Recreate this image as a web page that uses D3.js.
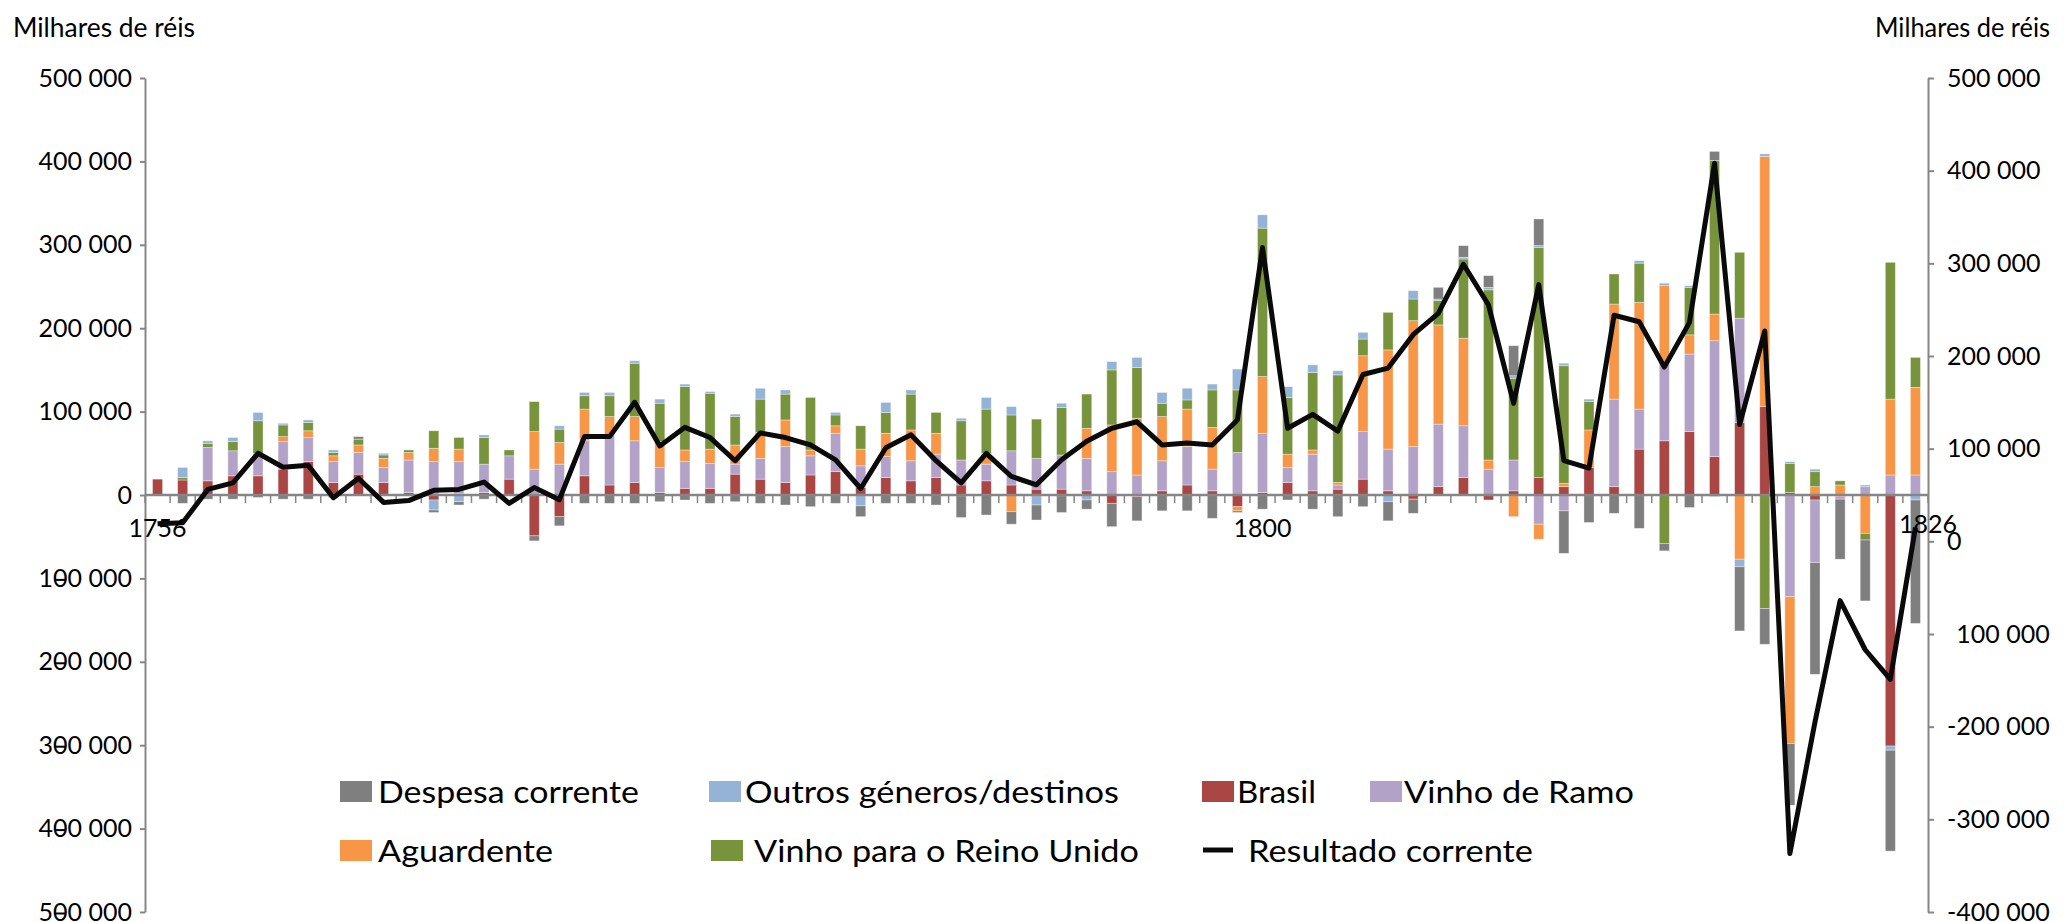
<!DOCTYPE html>
<html><head><meta charset="utf-8">
<script src="https://cdn.jsdelivr.net/npm/d3@7"></script>
<style>
body{margin:0;background:#fff;}
text{font-family:Lato,"Open Sans","Liberation Sans",sans-serif;fill:#000;}
</style>
</head><body>
<svg id="c" width="2064" height="922"></svg>
<script>
// Categories
const years = [1756,1757,1758,1759,1760,1761,1762,1763,1764,1765,
1766,1767,1768,1769,1770,1771,1772,1773,1774,1775,
1776,1777,1778,1779,1780,1781,1782,1783,1784,1785,
1786,1787,1788,1789,1790,1791,1792,1793,1794,1795,
1796,1797,1798,1799,1800,1801,1802,1803,1804,1805,
1806,1807,1808,1809,1810,1811,1812,1813,1814,1815,
1816,1817,1818,1819,1820,1821,1822,1823,1824,1825,1826];
const yearLabels = [1756, 1800, 1826];

// Series values (milhares de réis)
const brasil = [19000,18000,17000,23000,23000,31000,40000,15000,25000,15000,
3000,-6000,2000,3000,19000,-49000,-26000,23000,12000,15000,
3000,8000,8000,25000,19000,15000,24000,28000,9000,21000,
17000,21000,12000,17000,12000,7000,7000,5000,-10000,-2000,
5000,12000,5000,-14000,3000,15000,5000,7000,19000,5000,
-5000,10000,21000,-6000,5000,21000,10000,33000,10000,55000,
65000,76000,46000,87000,106000,3000,-6000,-2000,0,-301000,0];
const vinhoRamo = [0,0,40000,30000,27000,33000,29000,25000,26000,18000,
39000,40000,38000,34000,28000,31000,37000,42000,60000,50000,
30000,32000,30000,12000,25000,43000,23000,46000,26000,25000,
24000,28000,30000,20000,41000,37000,41000,39000,28000,24000,
36000,46000,26000,51000,71000,18000,44000,5000,57000,50000,
58000,75000,62000,31000,37000,-35000,-19000,0,105000,48000,
92000,93000,139000,125000,0,-122000,-75000,-3000,10000,24000,24000];
const aguardente = [0,0,0,0,0,6000,8000,7000,9000,11000,
9000,16000,15000,0,0,45000,26000,38000,22000,29000,
31000,14000,17000,23000,31000,32000,7000,9000,20000,28000,
37000,25000,-1000,13000,-20000,-1000,-1000,36000,56000,68000,
53000,45000,50000,-5000,68000,16000,5000,3000,91000,119000,
151000,119000,105000,11000,-26000,-18000,4000,45000,114000,128000,
94000,23000,32000,-77000,300000,-176000,10000,12000,-46000,91000,105000];
const vinhoReinoUnido = [0,3000,5000,11000,39000,14000,10000,4000,7000,4000,
3000,21000,14000,32000,7000,36000,16000,16000,25000,64000,
46000,76000,67000,34000,40000,31000,63000,13000,28000,25000,
43000,25000,47000,53000,43000,47000,57000,41000,66000,61000,
16000,11000,45000,75000,178000,68000,93000,129000,20000,45000,
26000,29000,95000,204000,98000,276000,141000,34000,36000,47000,
-58000,57000,184000,79000,-136000,35000,18000,5000,-8000,164000,36000];
const outros = [0,12000,3000,5000,10000,2000,3000,3000,0,2000,
0,-12000,-8000,3000,0,0,4000,4000,4000,3000,
5000,3000,2000,3000,13000,5000,0,3000,-13000,12000,
5000,0,3000,14000,10000,-11000,5000,-6000,10000,12000,
13000,14000,7000,25000,16000,13000,9000,5000,8000,-8000,
10000,2000,2000,3000,3000,2000,3000,3000,0,3000,
3000,2000,-2000,-9000,3000,2000,3000,0,2000,-5000,-6000];
const despesa = [0,-10000,-5000,-5000,-3000,-5000,-5000,-3000,3000,0,
0,-3000,-4000,-5000,0,-6000,-11000,-10000,-10000,-10000,
-8000,-6000,-10000,-8000,-10000,-12000,-14000,-10000,-13000,-10000,
-10000,-12000,-26000,-24000,-15000,-18000,-20000,-11000,-28000,-29000,
-19000,-19000,-28000,-2000,-17000,-6000,-17000,-26000,-14000,-23000,
-17000,14000,14000,14000,36000,32000,-51000,-33000,-22000,-40000,
-9000,-15000,11000,-77000,-43000,-74000,-134000,-72000,-73000,-121000,-148000];
const resultado = [19000,20000,56000,63000,95000,80000,82000,47000,68000,42000,
44000,55000,56000,64000,41000,58000,45000,113000,113000,150000,
103000,123000,112000,87000,117000,112000,104000,88000,57000,101000,
115000,87000,63000,95000,70000,61000,88000,108000,122000,129000,
104000,106000,104000,131000,317000,122000,137000,119000,180000,187000,
223000,246000,299000,255000,149000,277000,87000,79000,244000,237000,
188000,236000,408000,126000,227000,-337000,-195000,-64000,-117000,-149000,15000];

const leftTicks = [500000,400000,300000,200000,100000,0,-100000,-200000,-300000,-400000,-500000];
const rightTicks = [500000,400000,300000,200000,100000,0,-100000,-200000,-300000,-400000];

const seriesKeys = ['brasil','vinhoRamo','aguardente','vinhoReinoUnido','outros','despesa'];
const seriesNames = {despesa:'Despesa corrente', outros:'Outros géneros/destinos', brasil:'Brasil',
  vinhoRamo:'Vinho de Ramo', aguardente:'Aguardente', vinhoReinoUnido:'Vinho para o Reino Unido'};
const colors = {despesa:'#7f7f7f', outros:'#95b3d7', brasil:'#aa4643', vinhoRamo:'#b3a2c7',
  aguardente:'#f79646', vinhoReinoUnido:'#77933c'};

const table = years.map((yr,i)=>({year:yr, brasil:brasil[i], vinhoRamo:vinhoRamo[i], aguardente:aguardente[i],
  vinhoReinoUnido:vinhoReinoUnido[i], outros:outros[i], despesa:despesa[i]}));

const svg = d3.select('#c');
const axisColor = '#868686';

const x = d3.scaleBand().domain(years).range([145,1928]).padding(0);
const step = x.step();
const barW = step*0.4;
const yL = d3.scaleLinear().domain([-500000,500000]).range([912,78]);
const yR = d3.scaleLinear().domain([-400000,500000]).range([912,78]);

const loc = d3.formatLocale({decimal:',', thousands:' ', grouping:[3], currency:['',''], minus:'-'});
const fmt = loc.format(',d');

// Bars
const stacked = d3.stack().keys(seriesKeys).offset(d3.stackOffsetDiverging)(table);
svg.append('g').selectAll('g').data(stacked).join('g')
  .attr('fill', d=>colors[d.key])
  .selectAll('rect').data(d=>d.filter(p=>p[1]!==p[0])).join('rect')
  .attr('x', d=>x(d.data.year)+(step-barW)/2)
  .attr('width', barW)
  .attr('y', d=>yL(Math.max(d[0],d[1])))
  .attr('height', d=>Math.abs(yL(d[0])-yL(d[1])))
  .attr('stroke','#ffffff').attr('stroke-opacity',0.45).attr('stroke-width',0.8);

// Left axis
const gL = svg.append('g').attr('transform','translate(145,0)')
  .call(d3.axisLeft(yL).tickValues(leftTicks).tickSize(5).tickSizeOuter(0).tickPadding(8)
    .tickFormat(v=>fmt(Math.abs(v))));
// Right axis
const gR = svg.append('g').attr('transform','translate(1928,0)')
  .call(d3.axisRight(yR).tickValues(rightTicks).tickSize(6).tickSizeOuter(0).tickPadding(13)
    .tickFormat(v=>fmt(v)));
[gL,gR].forEach(g=>{
  g.select('.domain').attr('stroke',axisColor).attr('stroke-width',2);
  g.selectAll('.tick line').attr('stroke',axisColor).attr('stroke-width',2);
  g.selectAll('.tick text').style('font-size','25px').attr('fill','#000');
});
// left negative labels: dash overlapping second digit
gL.selectAll('.tick').filter(d=>d<0).each(function(){
  const t = d3.select(this).select('text').node();
  const r = t.getExtentOfChar(1);
  d3.select(this).append('line').attr('x1',r.x+1.5).attr('x2',r.x+r.width-1.5)
    .attr('y1',1).attr('y2',1).attr('stroke','#000').attr('stroke-width',2);
});
// right -100 000 label: hidden minus sign
gR.selectAll('.tick').filter(d=>d===-100000).select('text').text(null)
  .call(t=>{t.append('tspan').attr('fill','none').text('-'); t.append('tspan').text('100 000');});

// Category axis
const gX = svg.append('g');
gX.append('line').attr('x1',x.range()[0]).attr('x2',x.range()[1])
  .attr('y1',yL(0)).attr('y2',yL(0)).attr('stroke',axisColor).attr('stroke-width',2.5);
gX.selectAll('line.tk').data(years.concat(['end'])).join('line').attr('class','tk')
  .attr('x1',d=>d==='end'?x.range()[1]:x(d)).attr('x2',d=>d==='end'?x.range()[1]:x(d))
  .attr('y1',yL(0)).attr('y2',yL(0)+8).attr('stroke',axisColor).attr('stroke-width',1.5);

// Resultado corrente line (right axis)
const lineData = years.map((yr,i)=>({year:yr, v:resultado[i]}));
svg.append('path').datum(lineData)
  .attr('d', d3.line().x(d=>x(d.year)+step/2).y(d=>yR(d.v)))
  .attr('fill','none').attr('stroke','#0a0a0a').attr('stroke-width',5)
  .attr('stroke-linejoin','round');

// Year labels
svg.append('g').selectAll('text').data(yearLabels).join('text')
  .attr('x', d=> d===1826 ? x.range()[1] : x(d)+step/2)
  .attr('y', d=> d===1826 ? 523 : 527)
  .attr('text-anchor','middle').attr('dominant-baseline','central')
  .style('font-size','25px').text(d=>d);

// Axis titles
svg.append('text').attr('x',13).attr('y',37).style('font-size','26px')
  .attr('textLength',182).attr('lengthAdjust','spacingAndGlyphs').text('Milhares de réis');
svg.append('text').attr('x',1875).attr('y',37).style('font-size','26px')
  .attr('textLength',175).attr('lengthAdjust','spacingAndGlyphs').text('Milhares de réis');

// Legend
const legendItems = [
  {key:'despesa', mx:340, tx:378, tw:261, row:0},
  {key:'outros', mx:709, tx:745, tw:374, row:0},
  {key:'brasil', mx:1202, tx:1237, tw:79, row:0},
  {key:'vinhoRamo', mx:1370, tx:1404, tw:230, row:0},
  {key:'aguardente', mx:340, tx:378, tw:175, row:1},
  {key:'vinhoReinoUnido', mx:711, tx:754, tw:385, row:1},
  {key:'resultado', mx:1203, tx:1248, tw:285, row:1}
];
const rowY = [791, 850];
const lg = svg.append('g');
legendItems.forEach(it=>{
  const cy = rowY[it.row];
  if (it.key==='resultado') {
    lg.append('line').attr('x1',it.mx).attr('x2',it.mx+30).attr('y1',cy).attr('y2',cy)
      .attr('stroke','#0a0a0a').attr('stroke-width',5);
  } else {
    lg.append('rect').attr('x',it.mx).attr('y',cy-10).attr('width',32).attr('height',21)
      .attr('fill',colors[it.key]);
  }
  lg.append('text').attr('x',it.tx).attr('y',cy).attr('dominant-baseline','central')
    .style('font-size','31px').attr('textLength',it.tw).attr('lengthAdjust','spacingAndGlyphs')
    .text(it.key==='resultado' ? 'Resultado corrente' : seriesNames[it.key]);
});
</script>
</body></html>
